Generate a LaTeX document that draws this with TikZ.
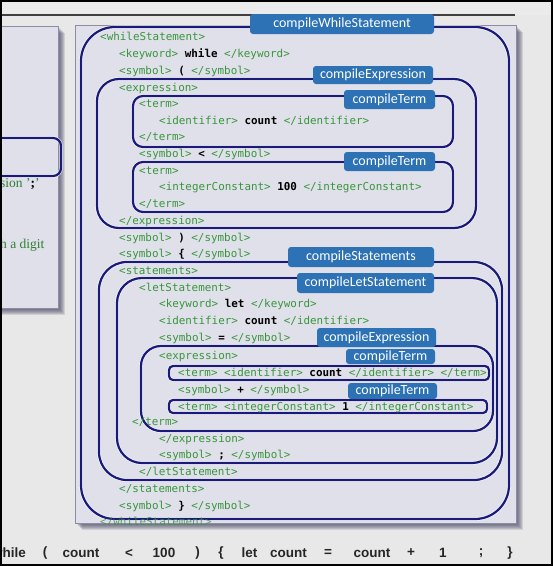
\documentclass[tikz,border=0pt]{standalone}
\usepackage{fontspec}
\setmainfont{Liberation Serif}
\newfontfamily\monof{DejaVu Sans Mono}
\newfontfamily\lblf{Carlito}
\newfontfamily\botf{Liberation Sans}
\definecolor{tagg}{RGB}{56,150,60}
\definecolor{navyc}{RGB}{26,26,122}
\definecolor{lblc}{RGB}{44,114,180}
\definecolor{bgc}{RGB}{232,232,232}
\definecolor{panelc}{RGB}{224,224,234}
\definecolor{panelb}{RGB}{140,140,165}
\definecolor{shadc}{RGB}{50,50,85}
\newcommand{\cont}[1]{{\bfseries\color{black}#1}}
\tikzset{
  xl/.style={anchor=base west, inner sep=0pt, yshift=-3.6pt, text=tagg,
    font=\monof\fontsize{10.9}{12}\selectfont},
  navyframe/.style={draw=navyc, line width=2.2pt,
    preaction={draw=white, draw opacity=0.7, line width=3.6pt}},
  lbl/.style={fill=lblc, rounded corners=3pt, text=white, inner sep=0pt,
    font=\lblf\fontsize{14}{16}\selectfont},
  bt/.style={inner sep=0pt, text=black!85, font=\botf\bfseries\fontsize{13.5}{15}\selectfont},
  lt/.style={anchor=west, inner sep=0pt, text=tagg!85!black, font=\fontsize{13.5}{15}\selectfont}
}
\begin{document}
\begin{tikzpicture}[x=1pt,y=-1pt]
\useasboundingbox (0,0) rectangle (553,566);
\fill[bgc] (0,0) rectangle (553,566);
\fill[white!92!black] (0,0) rectangle (553,15);
\draw[black!75, line width=2pt] (0,15) -- (515,15);
% left panel
\foreach \i in {1,...,7} {\fill[shadc, opacity=0.14] (-5+\i,26+\i) rectangle (58+\i,308+\i);}
\fill[panelc, draw=panelb, line width=0.8pt] (-5,26) rectangle (58,308);
\draw[navyframe, rounded corners=8pt] (-10,138) rectangle (61,176);
\node[lt] (s1) at (0,184) {sion '\textbf{\color{black};}'};
\node[lt] (s2) at (0,245) {h a digit};
% main panel
\foreach \i in {1,...,7} {\fill[shadc, opacity=0.14] (75+\i,25+\i) rectangle (516+\i,523+\i);}
\fill[panelc, draw=panelb, line width=0.8pt] (75,25) rectangle (516,523);
% frames
\draw[navyframe, rounded corners=34pt] (81,27) rectangle (509,519);
\draw[navyframe, rounded corners=22pt] (97,79) rectangle (476,228);
\draw[navyframe, rounded corners=10pt] (133,96) rectangle (453,147);
\draw[navyframe, rounded corners=10pt] (133,162) rectangle (453,212);
\draw[navyframe, rounded corners=28pt] (99,262) rectangle (502,480);
\draw[navyframe, rounded corners=25pt] (117,278) rectangle (497,463);
\draw[navyframe, rounded corners=20pt] (141,346) rectangle (493,431);
\draw[navyframe, rounded corners=4pt] (169,366) rectangle (489,380);
\draw[navyframe, rounded corners=4pt] (169,400) rectangle (487,413);
% xml lines
\node[xl] (l1) at (100,37) {<whileStatement>};
\node[xl] (l2) at (119,54) {<keyword> \cont{while} </keyword>};
\node[xl] (l3) at (119,71) {<symbol> \cont{(} </symbol>};
\node[xl] (l4) at (119,88) {<expression>};
\node[xl] (l5) at (139,104) {<term>};
\node[xl] (l6) at (159,121) {<identifier> \cont{count} </identifier>};
\node[xl] (l7) at (139,137) {</term>};
\node[xl] (l8) at (139,154) {<symbol> \cont{<} </symbol>};
\node[xl] (l9) at (139,171) {<term>};
\node[xl] (l10) at (159,187) {<integerConstant> \cont{100} </integerConstant>};
\node[xl] (l11) at (139,204) {</term>};
\node[xl] (l12) at (119,221) {</expression>};
\node[xl] (l13) at (119,238) {<symbol> \cont{)} </symbol>};
\node[xl] (l14) at (119,254) {<symbol> \cont{\{} </symbol>};
\node[xl] (l15) at (119,271) {<statements>};
\node[xl] (l16) at (139,288) {<letStatement>};
\node[xl] (l17) at (159,304) {<keyword> \cont{let} </keyword>};
\node[xl] (l18) at (159,321) {<identifier> \cont{count} </identifier>};
\node[xl] (l19) at (159,338) {<symbol> \cont{=} </symbol>};
\node[xl] (l20) at (159,356) {<expression>};
\node[xl] (l21) at (178,373) {<term> <identifier> \cont{count} </identifier> </term>};
\node[xl] (l22) at (178,390) {<symbol> \cont{+} </symbol>};
\node[xl] (l23) at (178,407) {<term> <integerConstant> \cont{1} </integerConstant>};
\node[xl] (l24) at (132,422) {</term>};
\node[xl] (l25) at (159,439) {</expression>};
\node[xl] (l26) at (159,455) {<symbol> \cont{;} </symbol>};
\node[xl] (l27) at (139,472) {</letStatement>};
\node[xl] (l28) at (119,489) {</statements>};
\node[xl] (l29) at (119,506) {<symbol> \cont{\}} </symbol>};
\begin{scope}
\clip (70,505) rectangle (520,524);
\node[xl, opacity=0.8] (l30) at (100,522) {</whileStatement>};
\end{scope}
% labels
\node[lbl, minimum width=184pt, minimum height=20pt] (L1) at (342,24) {compileWhileStatement};
\node[lbl, minimum width=120pt, minimum height=18pt] (L2) at (373,75) {compileExpression};
\node[lbl, minimum width=91pt, minimum height=19pt] (L3) at (389.5,99.5) {compileTerm};
\node[lbl, minimum width=91pt, minimum height=19pt] (L4) at (389.5,161.5) {compileTerm};
\node[lbl, minimum width=146pt, minimum height=20pt] (L5) at (361,257) {compileStatements};
\node[lbl, minimum width=137pt, minimum height=20pt] (L6) at (365.5,283) {compileLetStatement};
\node[lbl, minimum width=119pt, minimum height=19pt] (L7) at (376.5,337.5) {compileExpression};
\node[lbl, minimum width=89pt, minimum height=15pt] (L8) at (390.5,356.5) {compileTerm};
\node[lbl, minimum width=89pt, minimum height=16pt] (L9) at (392.5,391) {compileTerm};
% bottom code
\node[bt, anchor=east] (b1) at (26,553) {while};
\node[bt] (b2) at (45,553) {(};
\node[bt] (b3) at (81,553) {count};
\node[bt] (b4) at (129,553) {<};
\node[bt] (b5) at (164,553) {100};
\node[bt] (b6) at (197.5,553) {)};
\node[bt] (b7) at (221,553) {\{};
\node[bt] (b8) at (249.5,553) {let};
\node[bt] (b9) at (288.5,553) {count};
\node[bt] (b10) at (328,553) {=};
\node[bt] (b11) at (372,553) {count};
\node[bt] (b12) at (411,553) {+};
\node[bt] (b13) at (443,553) {1};
\node[bt] (b14) at (481,553) {;};
\node[bt] (b15) at (510,553) {\}};
\draw[black, line width=2pt] (1,1) rectangle (552,565);
\end{tikzpicture}
\end{document}
